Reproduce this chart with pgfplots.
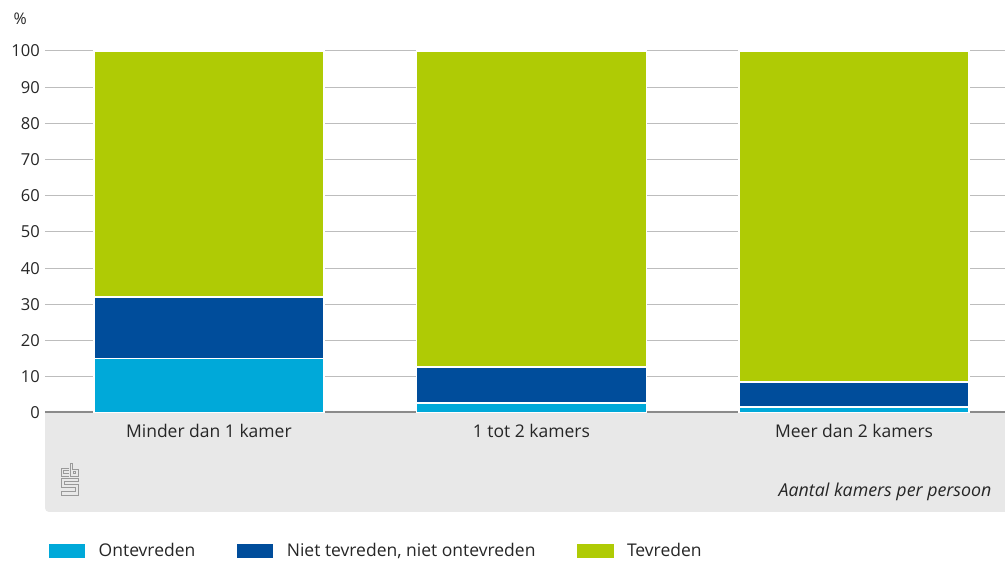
\documentclass[border=0pt]{standalone}
\usepackage{pgfplots}
\pgfplotsset{compat=1.18}
\usepackage{fontspec}
\setmainfont{Open Sans}
\definecolor{c1}{HTML}{00A9D9}
\definecolor{c2}{HTML}{004D9B}
\definecolor{c3}{HTML}{AFCB05}
\definecolor{panel}{HTML}{E8E8E8}
\definecolor{gridc}{HTML}{BDBDBD}
\definecolor{axisc}{HTML}{8A8A8A}
\definecolor{txt}{HTML}{262626}
\begin{document}
\begin{tikzpicture}
\useasboundingbox (0pt,0pt) rectangle (1005pt,561pt);
% grey panel
\fill[panel, rounded corners=4pt] (45pt,49pt) rectangle (1005pt,150pt);
\fill[panel] (45pt,120pt) rectangle (1005pt,150pt);
\fill[panel] (990pt,49pt) rectangle (1005pt,150pt);
% CBS logo approximation
\begin{scope}[draw=black!40, line width=0.7pt]
\draw (69pt,93pt) -- (61pt,93pt) -- (61pt,85pt) -- (69pt,85pt);
\draw (69pt,90.5pt) -- (63.5pt,90.5pt) -- (63.5pt,87.5pt) -- (69pt,87.5pt);
\draw (70pt,98pt) -- (72.5pt,98pt) -- (72.5pt,92pt) -- (78pt,92pt) -- (78pt,85pt) -- (70pt,85pt) -- cycle;
\draw (73pt,89.5pt) rectangle (75.5pt,87.5pt);
\draw (78pt,83pt) -- (61pt,83pt) -- (61pt,74pt) -- (75pt,74pt) -- (75pt,70pt) -- (61pt,70pt) -- (61pt,66pt) -- (78pt,66pt) -- (78pt,77pt) -- (64pt,77pt) -- (64pt,80pt) -- (78pt,80pt) -- cycle;
\end{scope}
\node[anchor=base east, font=\fontsize{17.8}{20}\selectfont\itshape, text=txt] at (995pt,64pt) {Aantal kamers per persoon};
\node[anchor=base west, font=\fontsize{16}{19}\selectfont, text=txt] at (10pt,536pt) {\%};
\begin{axis}[
  at={(45pt,148pt)}, anchor=south west,
  scale only axis, width=960pt, height=362pt,
  ymin=0, ymax=100,
  xmin=-0.508, xmax=2.468,
  ybar stacked, bar width=230pt,
  ytick={0,10,...,100},
  xtick=data,
  xticklabels={Minder dan 1 kamer,1 tot 2 kamers,Meer dan 2 kamers},
  major tick length=0pt,
  axis line style={draw=none},
  ymajorgrids, grid style={gridc, line width=1pt},
  /pgf/number format/assume math mode=true,
  tick label style={font=\fontsize{16.5}{19}\selectfont, text=txt},
  yticklabel style={inner sep=0pt, xshift=-5pt},
  xticklabel style={inner sep=0pt, yshift=-11pt, font=\fontsize{17.5}{20}\selectfont},
  legend columns=3,
  legend style={draw=none, fill=none, inner sep=0pt, font=\fontsize{17.5}{20}\selectfont,
    at={(axis description cs:0,0)}, anchor=west, xshift=2pt, yshift=-138pt,
    /tikz/every even column/.append style={column sep=38pt},
    /tikz/every odd column/.append style={column sep=10pt},
    cells={anchor=west, text=txt}},
  legend image code/.code={\fill[#1] (0pt,-7.5pt) rectangle (38pt,7.5pt);},
]
\addplot[fill=c1, draw=white, line width=1.5pt] coordinates {(0,15.0) (1,2.7) (2,1.7)};
\addplot[fill=c2, draw=white, line width=1.5pt] coordinates {(0,17.0) (1,10.0) (2,6.9)};
\addplot[fill=c3, draw=white, line width=1.5pt] coordinates {(0,68.0) (1,87.3) (2,91.4)};
\legend{Ontevreden,{Niet tevreden, niet ontevreden},Tevreden}
\draw[axisc, line width=3pt] (rel axis cs:0,0) -- (rel axis cs:1,0);
\end{axis}
\end{tikzpicture}
\end{document}
